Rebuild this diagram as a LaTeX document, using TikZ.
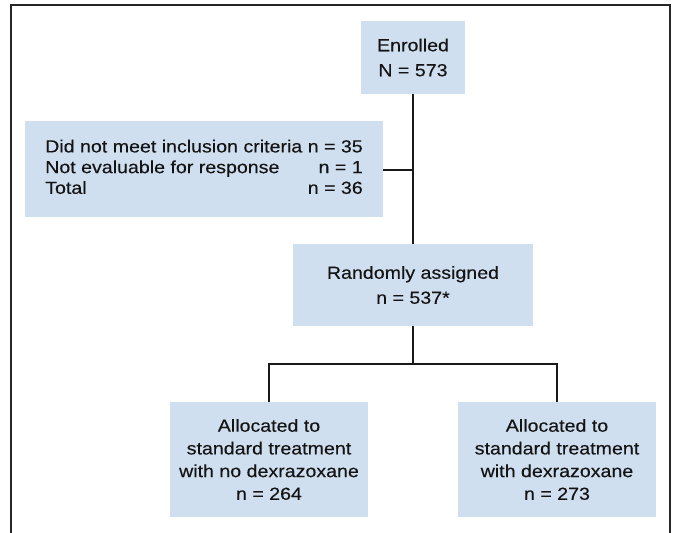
\documentclass[tikz,border=0pt]{standalone}
\usepackage{fontspec}
\setmainfont[FakeStretch=1.12,FakeBold=0.25]{Liberation Sans}
\definecolor{boxblue}{RGB}{208,223,240}
\definecolor{txt}{RGB}{20,20,20}
\tikzset{
  flowbox/.style={fill=boxblue, draw=none, inner sep=0pt, align=center, text=txt},
  conn/.style={line width=2.3bp, draw=black!90},
  frameline/.style={line width=1.8bp, draw=black!85}
}
\begin{document}
\begin{tikzpicture}[x=1bp,y=-1bp]
\useasboundingbox (0,0) rectangle (675,533);
% frame (open at bottom)
\draw[frameline] (11,533) -- (11,5) -- (670,5) -- (670,533);
% boxes
\node[flowbox, minimum width=104bp, minimum height=73bp,
      font=\fontsize{17.5bp}{25bp}\selectfont] (enr) at (413,57.5) {Enrolled\\N = 573};
\node[flowbox, minimum width=358bp, minimum height=96bp,
      font=\fontsize{17.5bp}{20.7bp}\selectfont] (excl) at (204,169)
  {\begin{tabular}{@{}l@{ }r@{}}Did not meet inclusion criteria & n = 35\\
   Not evaluable for response & n = 1\hspace{8bp}\\
   Total & n = 36\end{tabular}};
\node[flowbox, minimum width=240bp, minimum height=82bp,
      font=\fontsize{17.5bp}{25bp}\selectfont] (rand) at (413,285) {Randomly assigned\\n = 537*};
\node[flowbox, minimum width=198bp, minimum height=115bp,
      font=\fontsize{17.5bp}{22.7bp}\selectfont] (left) at (269,459.5)
  {Allocated to\\standard treatment\\with no dexrazoxane\\n = 264};
\node[flowbox, minimum width=198bp, minimum height=115bp,
      font=\fontsize{17.5bp}{22.7bp}\selectfont] (right) at (557,459.5)
  {Allocated to\\standard treatment\\with dexrazoxane\\n = 273};
% connectors
\coordinate (j1) at (413,170);
\coordinate (j2) at (413,364);
\draw[conn] (enr.south) -- (rand.north);
\draw[conn] (excl.east |- j1) -- (j1);
\draw[conn] (rand.south) -- (j2);
\draw[conn] (left.north) |- (j2) -| (right.north);
\end{tikzpicture}
\end{document}
